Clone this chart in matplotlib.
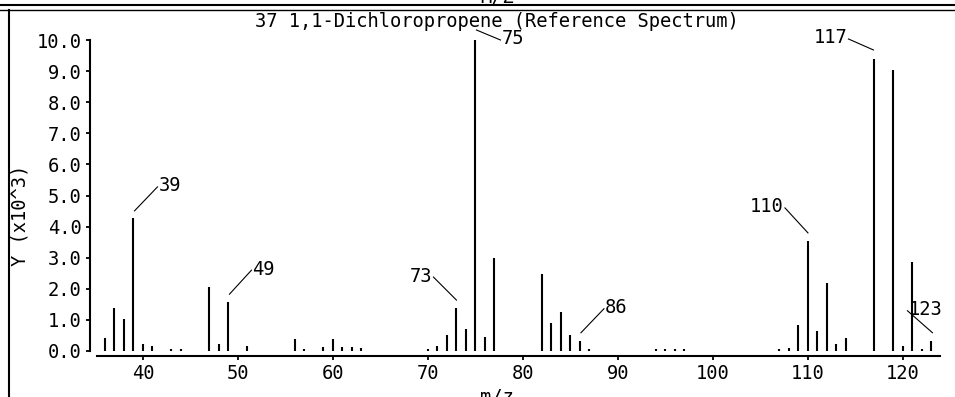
import matplotlib
matplotlib.use("Agg")
import matplotlib.pyplot as plt
from matplotlib.lines import Line2D
from matplotlib.transforms import IdentityTransform

# =========================
# DATA (intensity in thousands)
# =========================
mz = [36, 37, 38, 39, 40, 41, 43, 44, 47, 48, 49, 51, 56, 57, 59, 60, 61, 62, 63,
      70, 71, 72, 73, 74, 75, 76, 77, 82, 83, 84, 85, 86, 87, 94, 95, 96, 97,
      107, 108, 109, 110, 111, 112, 113, 114, 117, 119, 120, 121, 122, 123]
intensity = [0.42, 1.38, 1.03, 4.28, 0.22, 0.16, 0.07, 0.05, 2.05, 0.22, 1.57, 0.16,
             0.39, 0.05, 0.13, 0.39, 0.13, 0.13, 0.10,
             0.07, 0.15, 0.52, 1.38, 0.70, 10.0, 0.46, 2.98, 2.48, 0.89, 1.24, 0.52,
             0.33, 0.07, 0.05, 0.07, 0.05, 0.07,
             0.07, 0.10, 0.82, 3.54, 0.64, 2.18, 0.22, 0.42, 9.39, 9.03, 0.16, 2.86,
             0.05, 0.33]
labelled = [39, 49, 73, 75, 86, 110, 117, 123]

x_ticks = [40, 50, 60, 70, 80, 90, 100, 110, 120]
y_ticks = [0, 1, 2, 3, 4, 5, 6, 7, 8, 9, 10]

title = "37 1,1-Dichloropropene (Reference Spectrum)"

# label leader lines: (start offset, end offset) in pixels from the peak top, text side
label_style = {
    39: ((1, 7), (24, 31), "left"),
    49: ((1, 8), (23, 32), "left"),
    73: ((0, 8), (-23, 31), "right"),
    75: ((1, 10), (25, 0), "left"),
    86: ((1, 8), (24, 32), "left"),
    110: ((0, 8), (-23, 33), "right"),
    117: ((-1, 9), (-26, 20), "right"),
    123: ((1, 8), (-24, 30), "left"),
}

# =========================
# FIGURE
# =========================
W, H = 955, 397
FONT = "DejaVu Sans Mono"
FS = 13.5
plt.rcParams["font.family"] = FONT
plt.rcParams["font.size"] = FS

fig = plt.figure(figsize=(W / 100, H / 100), dpi=100)
ax = fig.add_axes([97 / W, (H - 356) / H, (940 - 97) / W, (356 - 30) / H])

ax.vlines(mz, 0, intensity, color="black", lw=1.5)

ax.set_xlim(35.16, 123.9)
ax.set_ylim(-5 / 31.1, 10 + 10 / 31.1)
ax.set_xticks(x_ticks)
ax.set_yticks(y_ticks)
ax.set_yticklabels([f"{v:.1f}" for v in y_ticks])

for side in ("top", "right"):
    ax.spines[side].set_visible(False)
ax.spines["left"].set_position(("outward", 5))
ax.spines["left"].set_bounds(0, 10)
for side in ("left", "bottom"):
    ax.spines[side].set_linewidth(1.5)
ax.tick_params(direction="out", length=3, width=1.3, pad=3, labelsize=FS)

# leader lines and labels, in pixel space
for m in labelled:
    (sx, sy), (ex, ey), ha = label_style[m]
    px, py = ax.transData.transform((m, intensity[mz.index(m)]))
    fig.add_artist(Line2D([px + sx, px + ex], [py + sy, py + ey],
                          transform=IdentityTransform(), color="black", lw=0.8))
    tx = px + ex + (1 if ha == "left" else -1)
    fig.text(tx, py + ey + 1, str(m), ha=ha, va="center",
             transform=IdentityTransform(), fontsize=FS)

# titles and axis labels
fig.text(497 / W, 1 - 27 / H, title, ha="center", va="baseline", fontsize=FS)
fig.text(20 / W, 1 - 215 / H, "Y (x10^3)", rotation=90, ha="center", va="center",
         fontsize=FS)
fig.text(497 / W, 1 - 388 / H, "m/z", ha="center", va="top", fontsize=FS)

# window frame (caption of the panel above is cut by the top edge)
fig.text(497 / W, 1 - 3 / H, "M/Z", ha="center", va="baseline", fontsize=FS)
fig.add_artist(Line2D([0, 1], [1 - 4.5 / H] * 2, transform=fig.transFigure,
                      color="black", lw=1.5))
fig.add_artist(Line2D([0, 1], [1 - 9.5 / H] * 2, transform=fig.transFigure,
                      color="black", lw=1.0))
fig.add_artist(Line2D([8.5 / W] * 2, [0, 1 - 9.5 / H], transform=fig.transFigure,
                      color="black", lw=1.5))

fig.savefig("out.png", dpi=100)
